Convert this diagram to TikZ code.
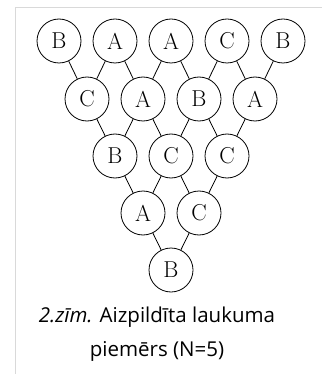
\documentclass[tikz,border=0pt]{standalone}
\usepackage{fontspec}
\newfontfamily\capfont{Open Sans}
\begin{document}
\begin{tikzpicture}[x=1pt,y=-1pt,
  cnode/.style={circle,draw,line width=0.8pt,minimum size=44pt,inner sep=0pt,font=\fontsize{23}{26}\selectfont},
  edge/.style={line width=0.8pt}]
\useasboundingbox (0,0) rectangle (322,374);
\fill[white] (0,0) rectangle (322,374);
\draw[line width=1.5pt,color=black!15] (15.5,374) -- (15.5,7.5) -- (322,7.5);
% row 1
\node[cnode] (a1) at (59,41) {B};
\node[cnode] (a2) at (115,41) {A};
\node[cnode] (a3) at (171,41) {A};
\node[cnode] (a4) at (227,41) {C};
\node[cnode] (a5) at (283,41) {B};
% row 2
\node[cnode] (b1) at (87,99) {C};
\node[cnode] (b2) at (143,99) {A};
\node[cnode] (b3) at (199,99) {B};
\node[cnode] (b4) at (255,99) {A};
% row 3
\node[cnode] (c1) at (115,156) {B};
\node[cnode] (c2) at (171,156) {C};
\node[cnode] (c3) at (227,156) {C};
% row 4
\node[cnode] (d1) at (143,213) {A};
\node[cnode] (d2) at (199,213) {C};
% row 5
\node[cnode] (e1) at (171,270) {B};
\draw[edge] (a1)--(b1) (a2)--(b1) (a2)--(b2) (a3)--(b2) (a3)--(b3) (a4)--(b3) (a4)--(b4) (a5)--(b4);
\draw[edge] (b1)--(c1) (b2)--(c1) (b2)--(c2) (b3)--(c2) (b3)--(c3) (b4)--(c3);
\draw[edge] (c1)--(d1) (c2)--(d1) (c2)--(d2) (c3)--(d2);
\draw[edge] (d1)--(e1) (d2)--(e1);
\node[font=\capfont\fontsize{20.5}{34}\selectfont,align=center,anchor=center] (cap) at (157,334) {\textit{2.zīm.} Aizpildīta laukuma\\piemērs (N=5)};
\end{tikzpicture}
\end{document}
